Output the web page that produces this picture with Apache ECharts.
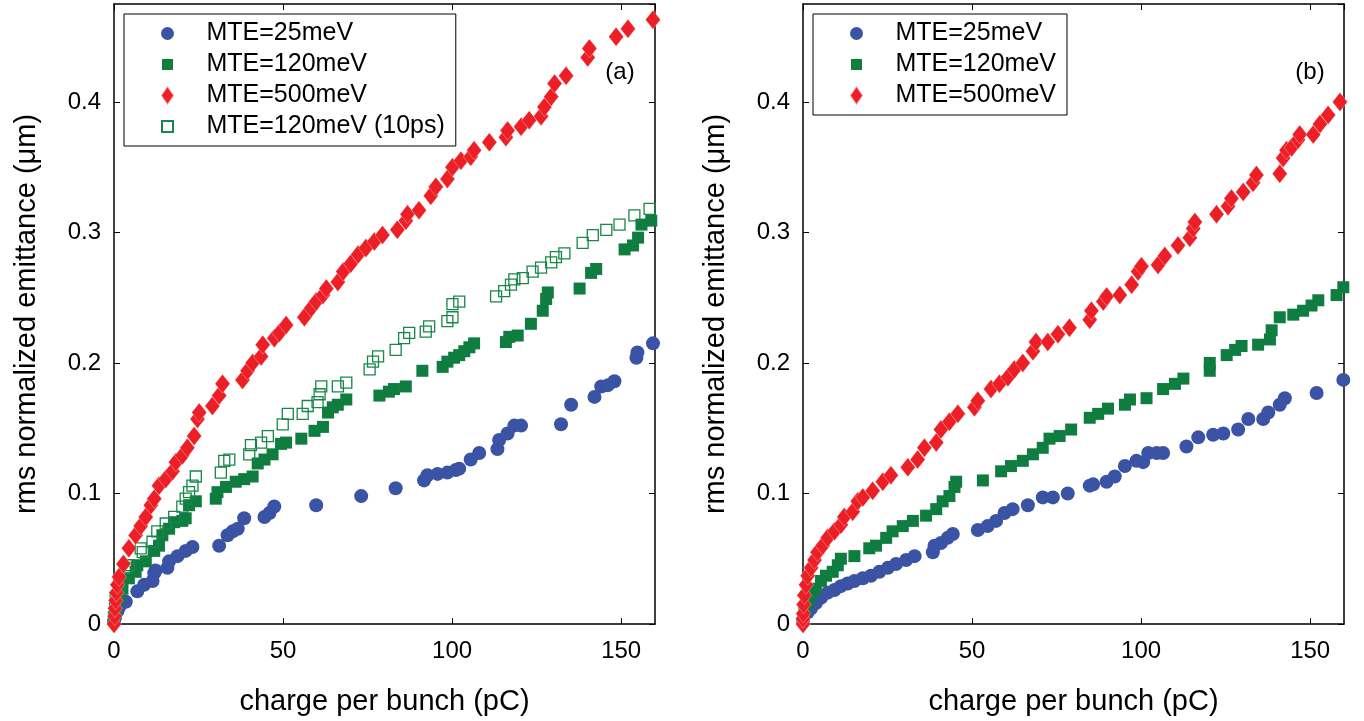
<!DOCTYPE html>
<html>
<head>
<meta charset="utf-8">
<script src="https://cdn.jsdelivr.net/npm/echarts@6/dist/echarts.min.js"></script>
<style>
html,body{margin:0;padding:0;background:#fff;}
#chart{width:1364px;height:721px;}
</style>
</head>
<body>
<div id="chart"></div>
<script>
// ---------- data: panel (a) ----------
const seriesNames = ['MTE=25meV', 'MTE=120meV', 'MTE=500meV', 'MTE=120meV (10ps)'];
const xTicks = [0, 50, 100, 150];
const yTicks = [0, 0.1, 0.2, 0.3, 0.4];
const panelLabels = ['(a)', '(b)'];

const a_25 = [[0,0.002],[0.3,0.005],[1,0.01],[1.5,0.013],[3.5,0.017],[6.9,0.025],[8.9,0.03],[11.4,0.033],[11.9,0.039],[12.3,0.041],[15.8,0.043],[16.3,0.048],[18.8,0.052],[21.2,0.056],[23.2,0.059],[31.1,0.06],[33.6,0.068],[35.1,0.071],[36.6,0.073],[38.5,0.081],[44.5,0.082],[46,0.085],[47.4,0.09],[59.8,0.091],[73.1,0.098],[83.3,0.104],[91.7,0.11],[92.7,0.114],[95.7,0.115],[98.6,0.116],[101.1,0.118],[102.1,0.119],[105.5,0.126],[108,0.131],[113.4,0.134],[113.9,0.141],[116.4,0.146],[118.4,0.152],[120.4,0.152],[132.2,0.153],[135.2,0.168],[142.1,0.174],[144.1,0.182],[146.1,0.183],[148,0.186],[154.5,0.204],[154.8,0.208],[159.4,0.215]];

const a_120 = [[0,0.005],[0.5,0.01],[1.5,0.02],[2.5,0.027],[4.4,0.035],[6.4,0.04],[6.9,0.045],[9.4,0.048],[11.9,0.056],[13.3,0.06],[14.3,0.068],[16.3,0.073],[17.8,0.078],[20.2,0.079],[21.2,0.081],[22.2,0.091],[24.2,0.094],[30.1,0.096],[30.6,0.101],[33.1,0.105],[36,0.109],[38.5,0.111],[41,0.113],[42.5,0.123],[44.5,0.126],[46.9,0.13],[49.4,0.138],[50.9,0.139],[55.4,0.142],[59.3,0.148],[61.8,0.151],[63.3,0.162],[64.7,0.166],[66.2,0.168],[68.7,0.172],[78.5,0.175],[81.3,0.178],[82.8,0.18],[86.3,0.182],[91.2,0.194],[97.2,0.197],[98.6,0.201],[100.6,0.204],[102.1,0.206],[103.6,0.209],[105.1,0.212],[106.5,0.215],[115.9,0.216],[116.9,0.22],[119.4,0.221],[123.3,0.23],[126.8,0.24],[127.8,0.249],[128.3,0.254],[137.7,0.257],[141.1,0.269],[142.6,0.272],[151,0.287],[153.5,0.29],[155,0.296],[156,0.306],[158.9,0.309]];

const a_500 = [[0,0],[0.2,0.006],[0.3,0.012],[0.5,0.018],[0.7,0.024],[1,0.03],[1.5,0.036],[2.8,0.046],[4.4,0.058],[6.4,0.068],[7.9,0.075],[9.4,0.082],[10.9,0.091],[11.9,0.096],[13.3,0.106],[15.3,0.111],[17.3,0.117],[18.3,0.124],[20.2,0.129],[21.7,0.135],[23.7,0.144],[24.7,0.157],[25.2,0.162],[29.1,0.167],[31.1,0.175],[32.1,0.184],[38,0.187],[39.5,0.194],[41,0.2],[43.5,0.205],[44,0.214],[47.4,0.219],[48.9,0.223],[50.9,0.229],[56.3,0.235],[58.3,0.242],[59.8,0.247],[61.8,0.252],[62.8,0.257],[66.2,0.262],[67.8,0.27],[70,0.276],[72.2,0.283],[74.5,0.288],[77,0.293],[79.4,0.298],[83.8,0.302],[86.3,0.309],[86.8,0.314],[90.2,0.317],[93.7,0.328],[95.2,0.335],[98.6,0.341],[100.1,0.35],[102.6,0.355],[105.5,0.358],[106.5,0.363],[111,0.369],[115.9,0.373],[116.4,0.378],[120.4,0.381],[122.8,0.386],[126.3,0.389],[127.3,0.396],[129.3,0.404],[130.3,0.414],[133.7,0.42],[140.1,0.434],[140.6,0.441],[148.5,0.45],[152,0.456],[159.4,0.463]];

const a_120_10ps = [[0,0.005],[0.3,0.012],[0.5,0.02],[1.5,0.027],[3.5,0.043],[4.4,0.045],[7.9,0.058],[8.5,0.055],[11.4,0.063],[12.8,0.071],[15.3,0.077],[17.8,0.082],[20.2,0.09],[21.2,0.096],[22.2,0.101],[23.2,0.106],[24.2,0.113],[31.6,0.116],[32.6,0.125],[34.1,0.126],[40,0.13],[40.5,0.137],[43.5,0.139],[45.5,0.144],[49.9,0.153],[51.4,0.161],[55.8,0.161],[57.3,0.167],[60.2,0.17],[60.8,0.176],[61.3,0.182],[66.2,0.182],[68.7,0.185],[75.6,0.195],[76.6,0.201],[78.1,0.205],[83.3,0.21],[85.8,0.219],[87.3,0.223],[92.2,0.224],[93.2,0.228],[98.6,0.232],[100.1,0.235],[100.1,0.245],[102.1,0.247],[113,0.251],[115.4,0.255],[117.4,0.26],[118.4,0.264],[120.9,0.265],[123.8,0.27],[126.3,0.273],[129.3,0.277],[130.7,0.281],[133.2,0.284],[138.6,0.292],[141.6,0.298],[145.6,0.302],[149.5,0.306],[153.9,0.313],[158.4,0.318]];

// ---------- data: panel (b) ----------
const b_25 = [[0,0.003],[1.4,0.009],[2.4,0.012],[3.8,0.016],[5.3,0.02],[7.3,0.024],[9.3,0.026],[11.2,0.029],[13.2,0.031],[15.2,0.033],[17.7,0.035],[20.1,0.037],[22.6,0.04],[25.1,0.043],[27.5,0.046],[30.5,0.049],[33,0.052],[38.4,0.055],[38.9,0.06],[40.8,0.062],[42.8,0.066],[44.3,0.069],[51.7,0.072],[54.6,0.075],[57.1,0.079],[59.6,0.085],[62,0.088],[66.5,0.091],[70.9,0.097],[73.9,0.097],[78.3,0.1],[84.8,0.106],[85.8,0.107],[89.8,0.109],[92.2,0.113],[95.2,0.121],[98.6,0.125],[100.6,0.124],[102.1,0.131],[104.6,0.131],[106.5,0.131],[113.4,0.136],[116.9,0.143],[121.3,0.145],[124.3,0.146],[128.7,0.149],[131.7,0.157],[136.1,0.157],[137.6,0.162],[141,0.168],[142.5,0.173],[151.9,0.177],[159.8,0.187]];

const b_120 = [[0,0.003],[0.4,0.01],[1.4,0.016],[2.4,0.022],[3.8,0.027],[5.3,0.033],[6.8,0.037],[8.8,0.04],[10.3,0.045],[11.2,0.05],[15.2,0.052],[19.6,0.058],[21.6,0.06],[24.6,0.066],[26.5,0.071],[29.5,0.075],[32.5,0.079],[36.4,0.083],[39.4,0.088],[41.3,0.094],[43.3,0.098],[44.8,0.105],[45.3,0.109],[53.2,0.11],[58.6,0.117],[61.5,0.121],[65,0.125],[68,0.13],[70.9,0.135],[72.9,0.142],[75.9,0.144],[79.3,0.149],[84.8,0.158],[87.3,0.161],[90.2,0.165],[95.2,0.168],[96.7,0.172],[101.6,0.173],[106.5,0.18],[110,0.184],[112.5,0.188],[120.3,0.194],[120.3,0.2],[125.3,0.206],[127.8,0.21],[129.7,0.213],[134.6,0.214],[138.1,0.218],[138.6,0.225],[141,0.235],[145,0.237],[147.9,0.24],[150.4,0.244],[152.4,0.248],[157.8,0.252],[159.8,0.258]];

const b_500 = [[0,0],[0,0.004],[0.1,0.008],[0.2,0.015],[0.4,0.022],[0.9,0.03],[1.4,0.037],[2.4,0.043],[3.4,0.049],[4.3,0.055],[5.8,0.06],[7.3,0.066],[9.3,0.071],[11.2,0.076],[12.2,0.082],[14.7,0.086],[16.2,0.094],[17.7,0.097],[20.6,0.102],[23.6,0.109],[26,0.114],[31,0.12],[33.9,0.126],[35.9,0.135],[39.4,0.139],[40.8,0.149],[43.3,0.155],[45.8,0.161],[50.7,0.166],[51.7,0.171],[55.6,0.18],[58.1,0.184],[60.6,0.189],[62.5,0.195],[65,0.2],[68,0.209],[68.9,0.216],[72.4,0.216],[75.4,0.222],[78.8,0.227],[84.8,0.233],[85.3,0.24],[88.8,0.247],[89.8,0.251],[93.7,0.252],[97.2,0.26],[99.1,0.27],[100.1,0.274],[105,0.275],[107,0.282],[110.9,0.29],[114.4,0.296],[115.4,0.303],[115.9,0.308],[122.3,0.314],[125.7,0.32],[126.7,0.326],[130.2,0.331],[133.1,0.338],[134.1,0.344],[141,0.345],[142,0.357],[143,0.363],[144.5,0.365],[146.4,0.371],[146.9,0.375],[150.9,0.375],[152.9,0.383],[155.3,0.39],[158.8,0.4]];

// ---------- styling ----------
const FONT = 'Liberation Sans, Arial, Helvetica, sans-serif';
const BLUE = '#3a53a4', GREEN = '#0f7d3f', RED = '#ed1f26';
const X_MIN = 0, X_MAX = 160, X_INT = 50;
const Y_MIN = 0, Y_MAX = 0.475, Y_INT = 0.1;

const chart = echarts.init(document.getElementById('chart'), null, {renderer: 'canvas'});

const grids = [
  {left: 114, top: 4, width: 541, height: 622},
  {left: 803, top: 4, width: 541, height: 622}
];

function fmtY(v) {
  const t = yTicks.find(k => Math.abs(k - v) < 1e-9);
  return t === undefined ? '' : (t === 0 ? '0' : String(t));
}
function fmtX(v) {
  const t = xTicks.find(k => Math.abs(k - v) < 1e-9);
  return t === undefined ? '' : String(t);
}

const lineStyle = {color: '#000', width: 1.5};
const tickStyle = {show: true, inside: true, length: 6, lineStyle: {color: '#000', width: 1}};

const xAxes = [], yAxes = [];
[0, 1].forEach(g => {
  xAxes.push({
    type: 'value', gridIndex: g, position: 'bottom', min: X_MIN, max: X_MAX, interval: X_INT,
    axisLine: {show: true, lineStyle}, axisTick: tickStyle, splitLine: {show: false},
    axisLabel: {show: true, color: '#000', fontSize: 24, fontFamily: FONT, margin: 15, formatter: fmtX, showMaxLabel: false},
    name: 'charge per bunch (pC)', nameLocation: 'middle', nameGap: 63,
    nameTextStyle: {color: '#000', fontSize: 29, fontFamily: FONT}
  });
  xAxes.push({
    type: 'value', gridIndex: g, position: 'top', min: X_MIN, max: X_MAX, interval: X_INT,
    axisLine: {show: true, onZero: false, lineStyle}, axisTick: tickStyle, splitLine: {show: false},
    axisLabel: {show: false}
  });
  yAxes.push({
    type: 'value', gridIndex: g, position: 'left', min: Y_MIN, max: Y_MAX, interval: Y_INT,
    axisLine: {show: true, onZero: false, lineStyle}, axisTick: tickStyle, splitLine: {show: false},
    axisLabel: {show: true, color: '#000', fontSize: 24, fontFamily: FONT, margin: 13, formatter: fmtY, showMaxLabel: false},
    name: 'rms normalized emittance (μm)', nameLocation: 'middle', nameGap: 73,
    nameTextStyle: {color: '#000', fontSize: 29, fontFamily: FONT}
  });
  yAxes.push({
    type: 'value', gridIndex: g, position: 'right', min: Y_MIN, max: Y_MAX, interval: Y_INT,
    axisLine: {show: true, onZero: false, lineStyle}, axisTick: tickStyle, splitLine: {show: false},
    axisLabel: {show: false}
  });
});

function scatter(name, data, g, kind) {
  const base = {
    type: 'scatter', name, data, xAxisIndex: g * 2, yAxisIndex: g * 2,
    silent: true, emphasis: {disabled: true}, animation: false
  };
  if (kind === 'circle') return Object.assign(base, {symbol: 'circle', symbolSize: 14, itemStyle: {color: BLUE, opacity: 1}, z: 2});
  if (kind === 'rect') return Object.assign(base, {symbol: 'rect', symbolSize: 12, itemStyle: {color: GREEN, opacity: 1}, z: 3});
  if (kind === 'open') return Object.assign(base, {symbol: 'rect', symbolSize: 11, itemStyle: {color: 'rgba(255,255,255,0)', borderColor: '#17874a', borderWidth: 1.3, opacity: 1}, z: 4});
  return Object.assign(base, {symbol: 'diamond', symbolSize: [15, 19], itemStyle: {color: RED, borderColor: 'rgba(255,255,255,0.5)', borderWidth: 0.6, opacity: 1}, z: 5});
}

const series = [
  scatter(seriesNames[0], a_25, 0, 'circle'),
  scatter(seriesNames[1], a_120, 0, 'rect'),
  scatter(seriesNames[3], a_120_10ps, 0, 'open'),
  scatter(seriesNames[2], a_500, 0, 'diamond'),
  scatter(seriesNames[0], b_25, 1, 'circle'),
  scatter(seriesNames[1], b_120, 1, 'rect'),
  scatter(seriesNames[2], b_500, 1, 'diamond')
];

const ICON_CIRCLE = 'path://M0,-9.5M0,9.5M-6.5,0A6.5,6.5,0,1,1,6.5,0A6.5,6.5,0,1,1,-6.5,0Z';
const ICON_SQUARE = 'path://M0,-9.5M0,9.5M-5.5,-5.5L5.5,-5.5L5.5,5.5L-5.5,5.5Z';
const ICON_DIAMOND = 'path://M0,-9.5L6.5,0L0,9.5L-6.5,0Z';
const icons = {
  'MTE=25meV': ICON_CIRCLE, 'MTE=120meV': ICON_SQUARE,
  'MTE=500meV': ICON_DIAMOND, 'MTE=120meV (10ps)': ICON_SQUARE
};

function legend(names, left) {
  return {
    show: true, orient: 'vertical', left, top: 14,
    padding: [7, 11, 7, 36], itemGap: 6, itemWidth: 68, itemHeight: 19,
    borderColor: '#000', borderWidth: 1, backgroundColor: '#fff',
    selectedMode: false,
    textStyle: {color: '#000', fontSize: 25, fontFamily: FONT},
    data: names.map(n => ({name: n, icon: icons[n]}))
  };
}

const option = {
  backgroundColor: '#fff',
  animation: false,
  grid: grids,
  xAxis: xAxes,
  yAxis: yAxes,
  legend: [
    legend([seriesNames[0], seriesNames[1], seriesNames[2], seriesNames[3]], 124),
    legend([seriesNames[0], seriesNames[1], seriesNames[2]], 813)
  ],
  graphic: [
    {type: 'text', x: 620, y: 72, style: {text: panelLabels[0], fill: '#000', font: '24px ' + FONT, textAlign: 'center', textVerticalAlign: 'middle'}},
    {type: 'text', x: 1310, y: 72, style: {text: panelLabels[1], fill: '#000', font: '24px ' + FONT, textAlign: 'center', textVerticalAlign: 'middle'}}
  ],
  series
};
chart.setOption(option);
</script>
</body>
</html>
